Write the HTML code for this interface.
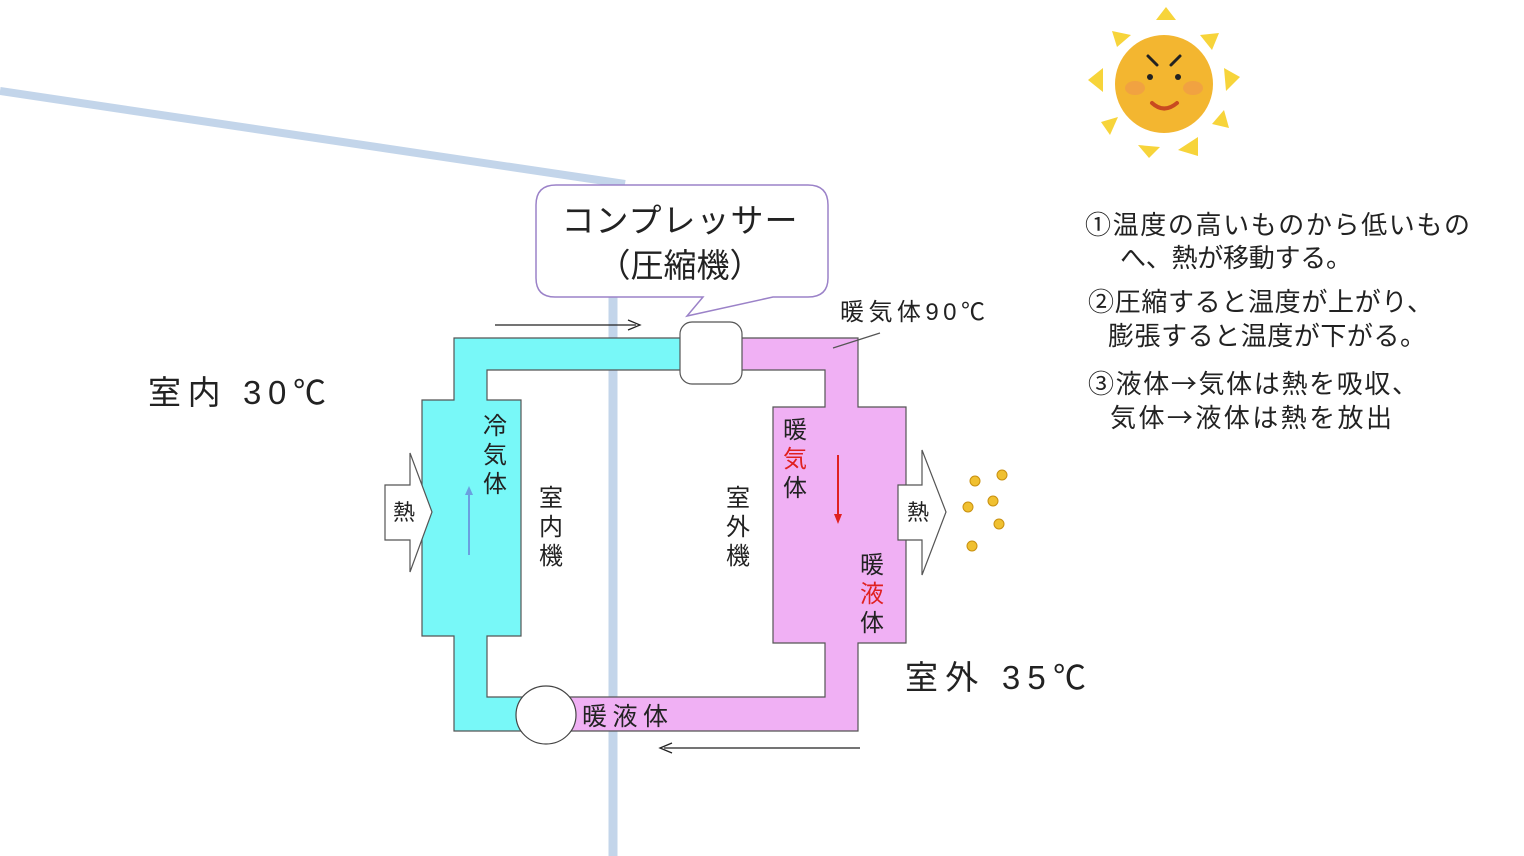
<!DOCTYPE html>
<html><head><meta charset="utf-8"><style>
html,body{margin:0;padding:0;background:#fff;}
svg{display:block;}
text{font-family:"Liberation Sans","Noto Sans CJK JP",sans-serif;fill:#222;}
.j{font-family:"Noto Sans CJK JP",sans-serif;}
</style></head><body>
<svg width="1524" height="856" viewBox="0 0 1524 856" xmlns="http://www.w3.org/2000/svg">
<line x1="0" y1="91" x2="625" y2="184" stroke="#c3d5ea" stroke-width="8"/>
<line x1="613" y1="290" x2="613" y2="856" stroke="#c3d5ea" stroke-width="9"/>
<path d="M556,185 H808 Q828,185 828,205 V278 Q828,297 808,297 H773 L687,316 L703,297 H555 Q536,297 536,278 V205 Q536,185 556,185 Z" fill="#fff" stroke="#9b82c8" stroke-width="1.5"/>
<text x="680" y="232" font-size="33" text-anchor="middle" letter-spacing="1">コンプレッサー</text>
<text x="680" y="277" font-size="33" text-anchor="middle">（圧縮機）</text>
<path d="M454,338 H700 V370 H487 V400 H521 V636 H487 V697 H546 V731 H454 V636 H422 V400 H454 Z" fill="#78f8f8" stroke="#555" stroke-width="1.2"/>
<path d="M720,338 H858 V407 H906 V643 H858 V731 H546 V697 H825 V643 H773 V407 H825 V370 H720 Z" fill="#f0b0f4" stroke="#555" stroke-width="1.2"/>
<rect x="680" y="322" width="62" height="62" rx="12" fill="#fff" stroke="#555" stroke-width="1.2"/>
<ellipse cx="546" cy="715" rx="30" ry="29" fill="#fff" stroke="#444" stroke-width="1.2"/>
<line x1="833" y1="348" x2="880" y2="333" stroke="#555" stroke-width="1.2"/>
<text x="840" y="320" font-size="24" textLength="145">暖気体90℃</text>
<line x1="495" y1="325" x2="636" y2="325" stroke="#222" stroke-width="1.3"/>
<path d="M628,320 L640,325 L628,330" fill="none" stroke="#222" stroke-width="1.3"/>
<line x1="664" y1="748" x2="860" y2="748" stroke="#222" stroke-width="1.3"/>
<path d="M672,743 L660,748 L672,753" fill="none" stroke="#222" stroke-width="1.3"/>
<line x1="469" y1="555" x2="469" y2="493" stroke="#6aa0e0" stroke-width="2"/>
<path d="M465,495 L469,486 L473,495 Z" fill="#6aa0e0"/>
<line x1="838" y1="455" x2="838" y2="516" stroke="#e02020" stroke-width="2"/>
<path d="M834,514 L838,524 L842,514 Z" fill="#e02020"/>
<path d="M385,485 H410 V453 L432,512 L410,572 V540 H385 Z" fill="#fff" stroke="#555" stroke-width="1.2"/>
<text x="404" y="520" font-size="22" text-anchor="middle">熱</text>
<path d="M898,485 H922 V450 L946,512 L922,575 V540 H898 Z" fill="#fff" stroke="#555" stroke-width="1.2"/>
<text x="918" y="520" font-size="22" text-anchor="middle">熱</text>
<g fill="#f0c030" stroke="#c89010" stroke-width="1">
<circle cx="975" cy="481" r="5"/><circle cx="1002" cy="475" r="5"/><circle cx="993" cy="501" r="5"/>
<circle cx="968" cy="507" r="5"/><circle cx="999" cy="524" r="5"/><circle cx="972" cy="546" r="5"/>
</g>
<g font-size="24" text-anchor="middle">
<text x="495" y="434">冷</text><text x="495" y="463">気</text><text x="495" y="492">体</text>
<text x="551" y="506">室</text><text x="551" y="535">内</text><text x="551" y="564">機</text>
<text x="738" y="506">室</text><text x="738" y="535">外</text><text x="738" y="564">機</text>
<text x="795" y="438">暖</text><text x="795" y="467" style="fill:#e02020">気</text><text x="795" y="496">体</text>
<text x="872" y="573">暖</text><text x="872" y="602" style="fill:#e02020">液</text><text x="872" y="631">体</text>
</g>
<text x="582" y="725" font-size="25" textLength="86">暖液体</text>
<text x="148" y="404" font-size="33" textLength="178">室内 30℃</text>
<text x="905" y="689" font-size="33" textLength="181">室外 35℃</text>
<g font-size="26" class="j">
<text class="j" x="1085" y="234" textLength="385">①温度の高いものから低いもの</text>
<text class="j" x="1120" y="267" textLength="232">へ、熱が移動する。</text>
<text class="j" x="1088" y="311" textLength="345">②圧縮すると温度が上がり、</text>
<text class="j" x="1108" y="345" textLength="318">膨張すると温度が下がる。</text>
<text class="j" x="1088" y="393" textLength="330">③液体→気体は熱を吸収、</text>
<text class="j" x="1110" y="427" textLength="282">気体→液体は熱を放出</text>
</g>
<g fill="#f7d43a">
<path d="M1166,7 L1176,20 L1156,20 Z"/>
<path d="M1112,31 L1131,35 L1117,47 Z"/>
<path d="M1200,35 L1219,33 L1212,50 Z"/>
<path d="M1088,80 L1103,68 L1103,92 Z"/>
<path d="M1240,77 L1224,68 L1226,91 Z"/>
<path d="M1101,122 L1118,117 L1110,135 Z"/>
<path d="M1224,110 L1229,128 L1212,124 Z"/>
<path d="M1138,145 L1160,147 L1149,158 Z"/>
<path d="M1178,150 L1198,137 L1198,156 Z"/>
</g>
<circle cx="1164" cy="84" r="49" fill="#f3b630"/>
<ellipse cx="1135" cy="88" rx="10" ry="7" fill="#f09a48" opacity="0.7"/>
<ellipse cx="1193" cy="88" rx="10" ry="7" fill="#f09a48" opacity="0.7"/>
<circle cx="1150" cy="77" r="3" fill="#222"/><circle cx="1178" cy="77" r="3" fill="#222"/>
<path d="M1148,56 L1157,65" stroke="#222" stroke-width="3" stroke-linecap="round"/>
<path d="M1180,56 L1171,65" stroke="#222" stroke-width="3" stroke-linecap="round"/>
<path d="M1152,103 Q1164,114 1177,103" fill="none" stroke="#c84a20" stroke-width="4" stroke-linecap="round"/>
</svg>
</body></html>
